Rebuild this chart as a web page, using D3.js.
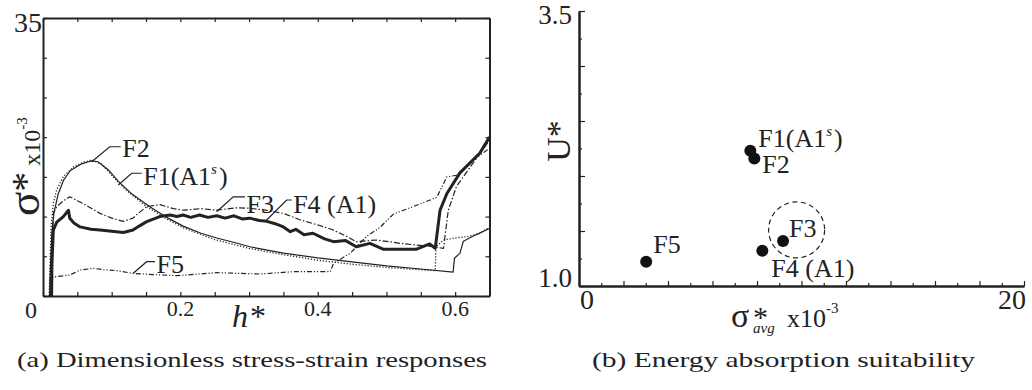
<!DOCTYPE html>
<html>
<head>
<meta charset="utf-8">
<script src="https://cdn.jsdelivr.net/npm/d3@7"></script>
<style>
  body { margin: 0; background: #fff; }
  svg { display: block; }
  text { font-family: "Liberation Serif", "Times New Roman", serif; fill: #222; }
  .tick line { stroke: #222; stroke-width: 1.2; }
  .domain { stroke: #222; }
</style>
</head>
<body>
<svg id="chart" width="1032" height="390"></svg>
<script>
// (a) dimensionless stress-strain curves, [h*, sigma* x10^-3]
var f1Curve = [[0.009,0],[0.0105,5],[0.012,9],[0.015,11.6],[0.02,13.4],[0.03,15.1],[0.045,16.3],[0.06,16.9],[0.072,17.1],[0.085,16.6],[0.1,15.2],[0.12,13.4],[0.15,11.3],[0.18,9.7],[0.204,8.6],[0.25,7.1],[0.3,6.0],[0.35,5.2],[0.4,4.5],[0.45,4.0],[0.5,3.6],[0.55,3.3],[0.571,3.2],[0.572,6.2],[0.583,7.05],[0.6,7.3],[0.62,7.5],[0.636,7.9],[0.65,8.7]];
var f2Curve = [[0.0095,0],[0.011,4],[0.013,8],[0.016,10.5],[0.022,12.8],[0.03,14.6],[0.04,15.8],[0.055,16.6],[0.07,17.0],[0.08,16.9],[0.095,15.9],[0.11,14.4],[0.13,12.8],[0.156,11.2],[0.18,9.9],[0.204,8.8],[0.23,7.9],[0.253,7.3],[0.28,6.7],[0.301,6.2],[0.35,5.4],[0.4,4.8],[0.45,4.3],[0.5,3.8],[0.55,3.4],[0.597,3.0],[0.599,4.75],[0.607,5.4],[0.612,6.9],[0.63,7.7],[0.65,8.5]];
var f3Curve = [[0.011,0],[0.013,6],[0.015,10.4],[0.02,11.25],[0.03,12.0],[0.039,12.5],[0.05,12.0],[0.059,11.6],[0.083,10.4],[0.1,9.8],[0.117,9.4],[0.131,9.8],[0.14,10.5],[0.151,11.25],[0.17,11.5],[0.19,11.0],[0.204,10.8],[0.23,11.0],[0.253,10.8],[0.28,11.1],[0.301,11.05],[0.325,10.8],[0.35,10.4],[0.374,9.6],[0.398,9.0],[0.42,8.4],[0.442,7.5],[0.456,6.84],[0.486,7.05],[0.52,6.63],[0.568,6.2],[0.583,6.0],[0.59,10.8],[0.602,13.8],[0.625,16.6],[0.65,19.6]];
var f4Curve = [[0.0125,0],[0.013,4],[0.015,8.3],[0.02,9.3],[0.0296,10.0],[0.037,10.8],[0.039,9.8],[0.045,9.2],[0.054,8.7],[0.07,8.4],[0.083,8.3],[0.1,8.15],[0.117,8.0],[0.131,8.3],[0.14,8.8],[0.151,9.36],[0.17,10.0],[0.185,10.2],[0.195,10.0],[0.204,10.2],[0.215,9.9],[0.228,10.2],[0.24,9.9],[0.253,10.1],[0.265,9.8],[0.278,10.1],[0.29,9.7],[0.301,9.8],[0.315,9.5],[0.326,9.4],[0.338,9.1],[0.35,8.7],[0.36,8.1],[0.368,8.4],[0.38,7.7],[0.393,7.9],[0.41,7.2],[0.423,6.84],[0.44,7.0],[0.456,6.2],[0.476,6.63],[0.495,5.9],[0.544,5.9],[0.563,6.55],[0.571,6.0],[0.578,10.8],[0.588,12.9],[0.607,15.5],[0.636,18.0],[0.65,20.0]];
var f5Curve = [[0.01,0],[0.0105,2.3],[0.02,2.45],[0.039,2.64],[0.054,3.27],[0.073,3.48],[0.09,3.3],[0.107,3.19],[0.131,2.85],[0.16,2.7],[0.195,2.56],[0.225,2.75],[0.253,2.94],[0.285,2.85],[0.316,2.77],[0.364,3.06],[0.418,3.06],[0.423,4.1],[0.447,5.37],[0.471,7.5],[0.49,8.6],[0.51,10.3],[0.54,11.3],[0.573,12.4],[0.588,15.0],[0.602,15.2],[0.626,17.1],[0.65,18.6]];
var hTickLabels = [0.2, 0.4, 0.6];

// (b) energy absorption suitability
var foamNames = ['F1', 'F2', 'F3', 'F4', 'F5'];
var avgStress = [7.7, 7.88, 9.17, 8.24, 3.02];
var energyU = [2.23, 2.16, 1.41, 1.32, 1.22];

var svg = d3.select('#chart');
svg.append('rect').attr('width', 1032).attr('height', 390).attr('fill', '#fff');

function stress_strain() {
   var x = d3.scaleLinear().domain([0, 0.65]).range([43, 489.5]);
   var y = d3.scaleLinear().domain([0, 35]).range([296, 18]);
   var g = svg.append('g');

   var xt = d3.range(0, 0.651, 0.05), yt = d3.range(0, 35.1, 5);
   g.append('g').attr('transform', 'translate(0,296)')
     .call(d3.axisBottom(x).tickValues(xt).tickSize(-4).tickSizeOuter(0).tickFormat(''));
   g.append('g').attr('transform', 'translate(0,18)')
     .call(d3.axisTop(x).tickValues(xt).tickSize(-4).tickSizeOuter(0).tickFormat(''));
   g.append('g').attr('transform', 'translate(43,0)')
     .call(d3.axisLeft(y).tickValues(yt).tickSize(-4).tickSizeOuter(0).tickFormat(''));
   g.append('g').attr('transform', 'translate(489.5,0)')
     .call(d3.axisRight(y).tickValues(yt).tickSize(-4).tickSizeOuter(0).tickFormat(''));
   g.selectAll('.domain').attr('stroke-width', 2);

   var line = d3.line().x(function (d) { return x(d[0]); }).y(function (d) { return y(d[1]); });
   var series = [
      {pts: f2Curve, w: 1.2, dash: null},
      {pts: f1Curve, w: 1.3, dash: '1.2,1.8'},
      {pts: f3Curve, w: 1.2, dash: '6,2,1.5,2'},
      {pts: f5Curve, w: 1.2, dash: '5,2,1.2,1.8,1.2,2'},
      {pts: f4Curve, w: 3, dash: null}
   ];
   g.selectAll('path.curve').data(series).enter().append('path')
     .attr('class', 'curve')
     .attr('d', function (d) { return line(d.pts); })
     .attr('fill', 'none')
     .attr('stroke', '#222')
     .attr('stroke-width', function (d) { return d.w; })
     .attr('stroke-dasharray', function (d) { return d.dash; })
     .attr('stroke-linejoin', 'round');

   // leader labels: anchor on curve (data), knee offset, run length, text
   var labels = [
      {t: 'F2', ax: 0.0709, ay: 16.9, kx: 18, ky: -15, run: 11, ty: 10},
      {t: 'F1(A1', sup: 's', ax: 0.1096, ay: 13.98, kx: 13.4, ky: -11.7, run: 10, ty: 11.7},
      {t: 'F3', ax: 0.2528, ay: 10.6, kx: 16.6, ky: -15, run: 11.7, ty: 16},
      {t: 'F4 (A1)', ax: 0.3256, ay: 9.57, kx: 20, ky: -20, run: 5, ty: 13},
      {t: 'F5', ax: 0.1314, ay: 2.86, kx: 13.4, ky: -11.6, run: 8.3, ty: 11.3}
   ];
   labels.forEach(function (l) {
      var x0 = x(l.ax), y0 = y(l.ay), x1 = x0 + l.kx, y1 = y0 + l.ky;
      g.append('path')
        .attr('d', 'M' + x0 + ',' + y0 + 'L' + x1 + ',' + y1 + 'L' + (x1 + l.run) + ',' + y1)
        .attr('fill', 'none').attr('stroke', '#222').attr('stroke-width', 1.2);
      var t = g.append('text').attr('x', x1 + l.run + 1.5).attr('y', y1 + l.ty)
        .style('font-size', '26px').text(l.t);
      if (l.sup) {
         t.append('tspan').attr('dy', -11).style('font-size', '15px').style('font-style', 'italic').text(l.sup);
         t.append('tspan').attr('dy', 11).attr('dx', 2).text(')');
      }
   });

   // tick labels
   g.append('text').attr('x', 42).attr('y', 32).attr('text-anchor', 'end')
     .style('font-size', '28px').text('35');
   g.append('text').attr('x', 31).attr('y', 318).attr('text-anchor', 'middle')
     .style('font-size', '24px').text('0');
   g.selectAll('text.hl').data(hTickLabels).enter().append('text')
     .attr('class', 'hl')
     .attr('x', function (d) { return x(d); })
     .attr('y', 316)
     .attr('text-anchor', 'middle')
     .style('font-size', '22px')
     .text(function (d) { return d.toFixed(1); });
   g.append('text').attr('x', 232).attr('y', 327)
     .style('font-size', '32px').style('font-style', 'italic').text('h')
     .append('tspan').style('font-style', 'normal').attr('dx', 2).text('*');

   // y label
   var yl = g.append('text').attr('transform', 'translate(39,216) rotate(-90)');
   yl.append('tspan').style('font-size', '45px').text('σ');
   yl.append('tspan').style('font-size', '40px').text('*');
   yl.append('tspan').style('font-size', '24px').attr('dx', 6).attr('dy', 1).text('x10');
   yl.append('tspan').style('font-size', '15px').attr('dy', -13).text('-3');
}

function energy_plot() {
   var x = d3.scaleLinear().domain([0, 20]).range([579, 1024]);
   var y = d3.scaleLinear().domain([1, 3.5]).range([286, 11]);
   var g = svg.append('g');

   g.append('g').attr('transform', 'translate(0,286)')
     .call(d3.axisBottom(x).tickValues(d3.range(1, 20, 2)).tickSize(-3).tickSizeOuter(0).tickFormat(''));
   g.append('g').attr('transform', 'translate(0,286)')
     .call(d3.axisBottom(x).tickValues(d3.range(0, 20.1, 2)).tickSize(-5).tickSizeOuter(0).tickFormat(''));
   g.append('g').attr('transform', 'translate(579,0)')
     .call(d3.axisLeft(y).tickValues(d3.range(1.25, 3.5, 0.5)).tickSize(-3).tickSizeOuter(0).tickFormat(''));
   g.append('g').attr('transform', 'translate(579,0)')
     .call(d3.axisLeft(y).tickValues(d3.range(1, 3.51, 0.5)).tickSize(-6).tickSizeOuter(0).tickFormat(''));
   g.selectAll('.domain').attr('stroke-width', 2);

   var pts = foamNames.map(function (n, i) { return {name: n, sx: avgStress[i], u: energyU[i]}; });
   g.selectAll('circle.pt').data(pts).enter().append('circle')
     .attr('class', 'pt')
     .attr('cx', function (d) { return x(d.sx); })
     .attr('cy', function (d) { return y(d.u); })
     .attr('r', 6)
     .attr('fill', '#111');

   // dashed ring around F3
   g.append('circle').attr('cx', x(9.78)).attr('cy', y(1.51)).attr('r', 28)
     .attr('fill', 'none').attr('stroke', '#222').attr('stroke-width', 1.2)
     .attr('stroke-dasharray', '5,3.5');

   var offs = [[8, -4], [8, 15], [6, -4], [9, 26], [7, -9]];
   var labelText = ['F1(A1', 'F2', 'F3', 'F4 (A1)', 'F5'];
   pts.forEach(function (d, i) {
      var t = g.append('text').attr('x', x(d.sx) + offs[i][0]).attr('y', y(d.u) + offs[i][1])
        .style('font-size', '26px').text(labelText[i]);
      if (i === 0) {
         t.append('tspan').attr('dy', -11).style('font-size', '15px').style('font-style', 'italic').text('s');
         t.append('tspan').attr('dy', 11).attr('dx', 2).text(')');
      }
   });

   g.append('text').attr('x', 572).attr('y', 24).attr('text-anchor', 'end').style('font-size', '27px').text('3.5');
   g.append('text').attr('x', 572).attr('y', 287).attr('text-anchor', 'end').style('font-size', '27px').text('1.0');
   g.append('text').attr('x', 580).attr('y', 309).style('font-size', '28px').text('0');
   g.append('text').attr('x', 1026).attr('y', 309).attr('text-anchor', 'end').style('font-size', '28px').text('20');

   g.append('text').attr('transform', 'translate(570,141) rotate(-90)').attr('text-anchor', 'middle')
     .style('font-size', '34px').text('U*');

   // x label: sigma*_avg x10^-3
   g.append('text').attr('x', 731).attr('y', 327).style('font-size', '34px').text('σ');
   g.append('text').attr('x', 753).attr('y', 327).style('font-size', '30px').text('*');
   g.append('text').attr('x', 753).attr('y', 333).style('font-size', '15px').style('font-style', 'italic').text('avg');
   var xl = g.append('text').attr('x', 787).attr('y', 327).style('font-size', '26px').text('x10');
   xl.append('tspan').style('font-size', '15px').attr('dy', -14).text('-3');
}

function captions() {
   svg.append('text').attr('x', 17).attr('y', 367).style('font-size', '21px')
     .attr('textLength', 470).attr('lengthAdjust', 'spacingAndGlyphs')
     .text('(a) Dimensionless stress-strain responses');
   svg.append('text').attr('x', 592).attr('y', 367).style('font-size', '21px')
     .attr('textLength', 383).attr('lengthAdjust', 'spacingAndGlyphs')
     .text('(b) Energy absorption suitability');
}

stress_strain();
energy_plot();
captions();
</script>
</body>
</html>
